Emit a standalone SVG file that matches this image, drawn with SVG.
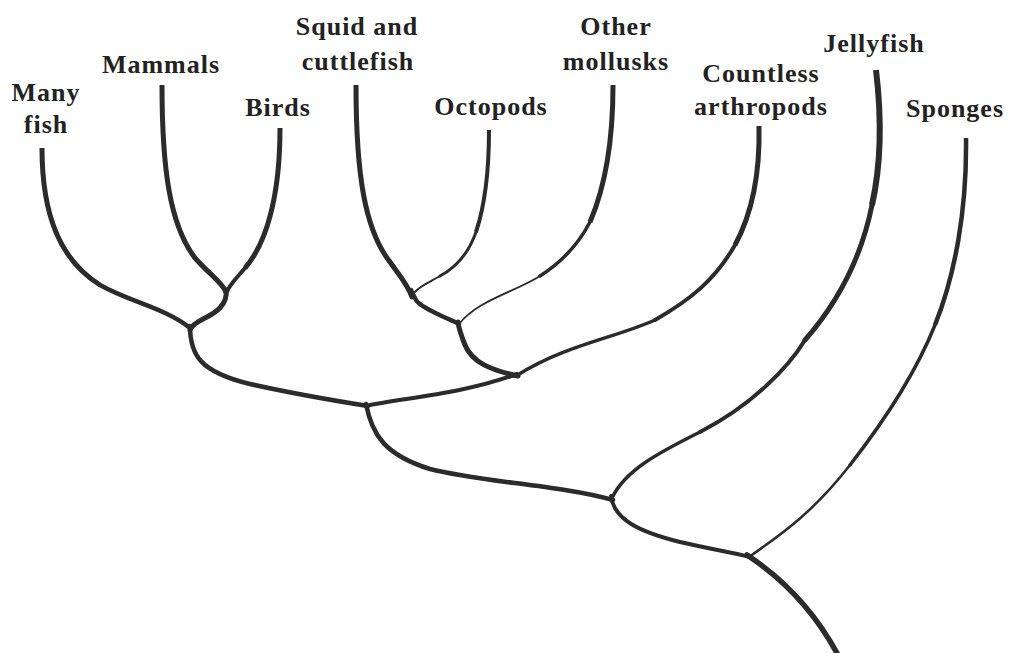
<svg xmlns="http://www.w3.org/2000/svg" width="1009" height="653" viewBox="0 0 1009 653">
<style>
.br{fill:none;stroke:#2b2b2b;stroke-linecap:round;stroke-linejoin:round}
.tip{stroke-linecap:butt}
.w6{stroke-width:6}.w55{stroke-width:5.5}.w5{stroke-width:5}.w45{stroke-width:4.5}.w4{stroke-width:4}.w35{stroke-width:3.5}.w3{stroke-width:3}.w25{stroke-width:2.5}.w2{stroke-width:2}.w18{stroke-width:1.8}
.lbl{font-family:"Liberation Serif","DejaVu Serif",serif;font-weight:bold;font-size:26px;fill:#222;text-anchor:middle;letter-spacing:1px}
</style>
<rect width="1009" height="653" fill="#ffffff"/>

<g id="connectors">
  <path id="root" class="br w55" d="M747,555 C785,580 815,612 838,655"/>
  <path class="br w4" d="M611,496 C614,520 640,532 680,542 C710,549 730,552 750,557"/>
  <path class="br w45" d="M366,404 C372,435 385,455 430,469 C480,482 560,485 613,500"/>
  <path class="br w45" d="M190,326 C190,355 200,372 250,384 C290,393 330,400 368,406"/>
  <path class="br w4" d="M366,406 C400,398 460,395 517,374"/>
  <path class="br w5" d="M226,290 C228,305 215,313 205,318 C197,322 191,326 190,330"/>
  <path class="br w5" d="M518,376 C490,370 472,362 465,345 C461,335 459,330 458,322"/>
  <path class="br w45" d="M459,324 C440,315 420,307 416,300 C413,295 412,292 411,290"/>

  <path class="br tip w5" d="M42,148 C42,215 60,260 100,285"/>
  <path class="br w45" d="M100,285 C130,302 165,308 190,328"/>

  <path class="br tip w5" d="M162,85 C162,170 170,225 195,258"/>
  <path class="br w5" d="M195,258 C210,275 222,282 226,292"/>

  <path class="br tip w5" d="M280,128 C280,200 265,245 245,268"/>
  <path class="br w4" d="M245,268 C235,280 229,285 227,292"/>

  <path class="br tip w5" d="M356,85 C356,175 365,230 390,262"/>
  <path class="br w5" d="M390,262 C400,276 408,285 412,297"/>

  <path class="br tip w4" d="M489,130 C489,175 485,205 476,232"/>
  <path class="br w3" d="M476,232 C468,255 455,268 440,276"/>
  <path class="br w2" d="M440,276 C428,283 418,287 414,293"/>

  <path class="br tip w5" d="M613,85 C613,140 606,185 590,222"/>
  <path class="br w35" d="M590,222 C578,245 562,262 540,276"/>
  <path class="br w18" d="M540,276 C515,292 478,300 459,324"/>

  <path class="br tip w5" d="M759,126 C760,170 754,210 735,245"/>
  <path class="br w4" d="M735,245 C715,280 690,300 655,320"/>
  <path class="br w35" d="M655,320 C615,338 565,345 516,376"/>

  <path class="br tip w6" d="M876,70 C882,120 881,165 872,205"/>
  <path class="br w5" d="M872,205 C862,255 840,300 805,340"/>
  <path class="br w4" d="M805,340 C788,368 752,405 700,432"/>
  <path class="br w35" d="M700,432 C660,452 625,470 612,498"/>

  <path class="br tip w45" d="M966,138 C967,210 955,275 935,325"/>
  <path class="br w35" d="M935,325 C915,375 885,420 850,465"/>
  <path class="br w25" d="M850,465 C815,510 785,532 749,557"/>
</g>

<g id="many-fish"><text class="lbl" x="46" y="101">Many</text><text class="lbl" x="46" y="133">fish</text></g>
<g id="mammals"><text class="lbl" x="161" y="73">Mammals</text></g>
<g id="birds"><text class="lbl" x="278" y="116">Birds</text></g>
<g id="squid"><text class="lbl" x="357" y="35">Squid and</text><text class="lbl" x="358" y="70">cuttlefish</text></g>
<g id="octopods"><text class="lbl" x="491" y="115">Octopods</text></g>
<g id="other-mollusks"><text class="lbl" x="616" y="35">Other</text><text class="lbl" x="616" y="70">mollusks</text></g>
<g id="arthropods"><text class="lbl" x="761" y="82">Countless</text><text class="lbl" x="761" y="115">arthropods</text></g>
<g id="jellyfish"><text class="lbl" x="874" y="52">Jellyfish</text></g>
<g id="sponges"><text class="lbl" x="955" y="117">Sponges</text></g>
</svg>
